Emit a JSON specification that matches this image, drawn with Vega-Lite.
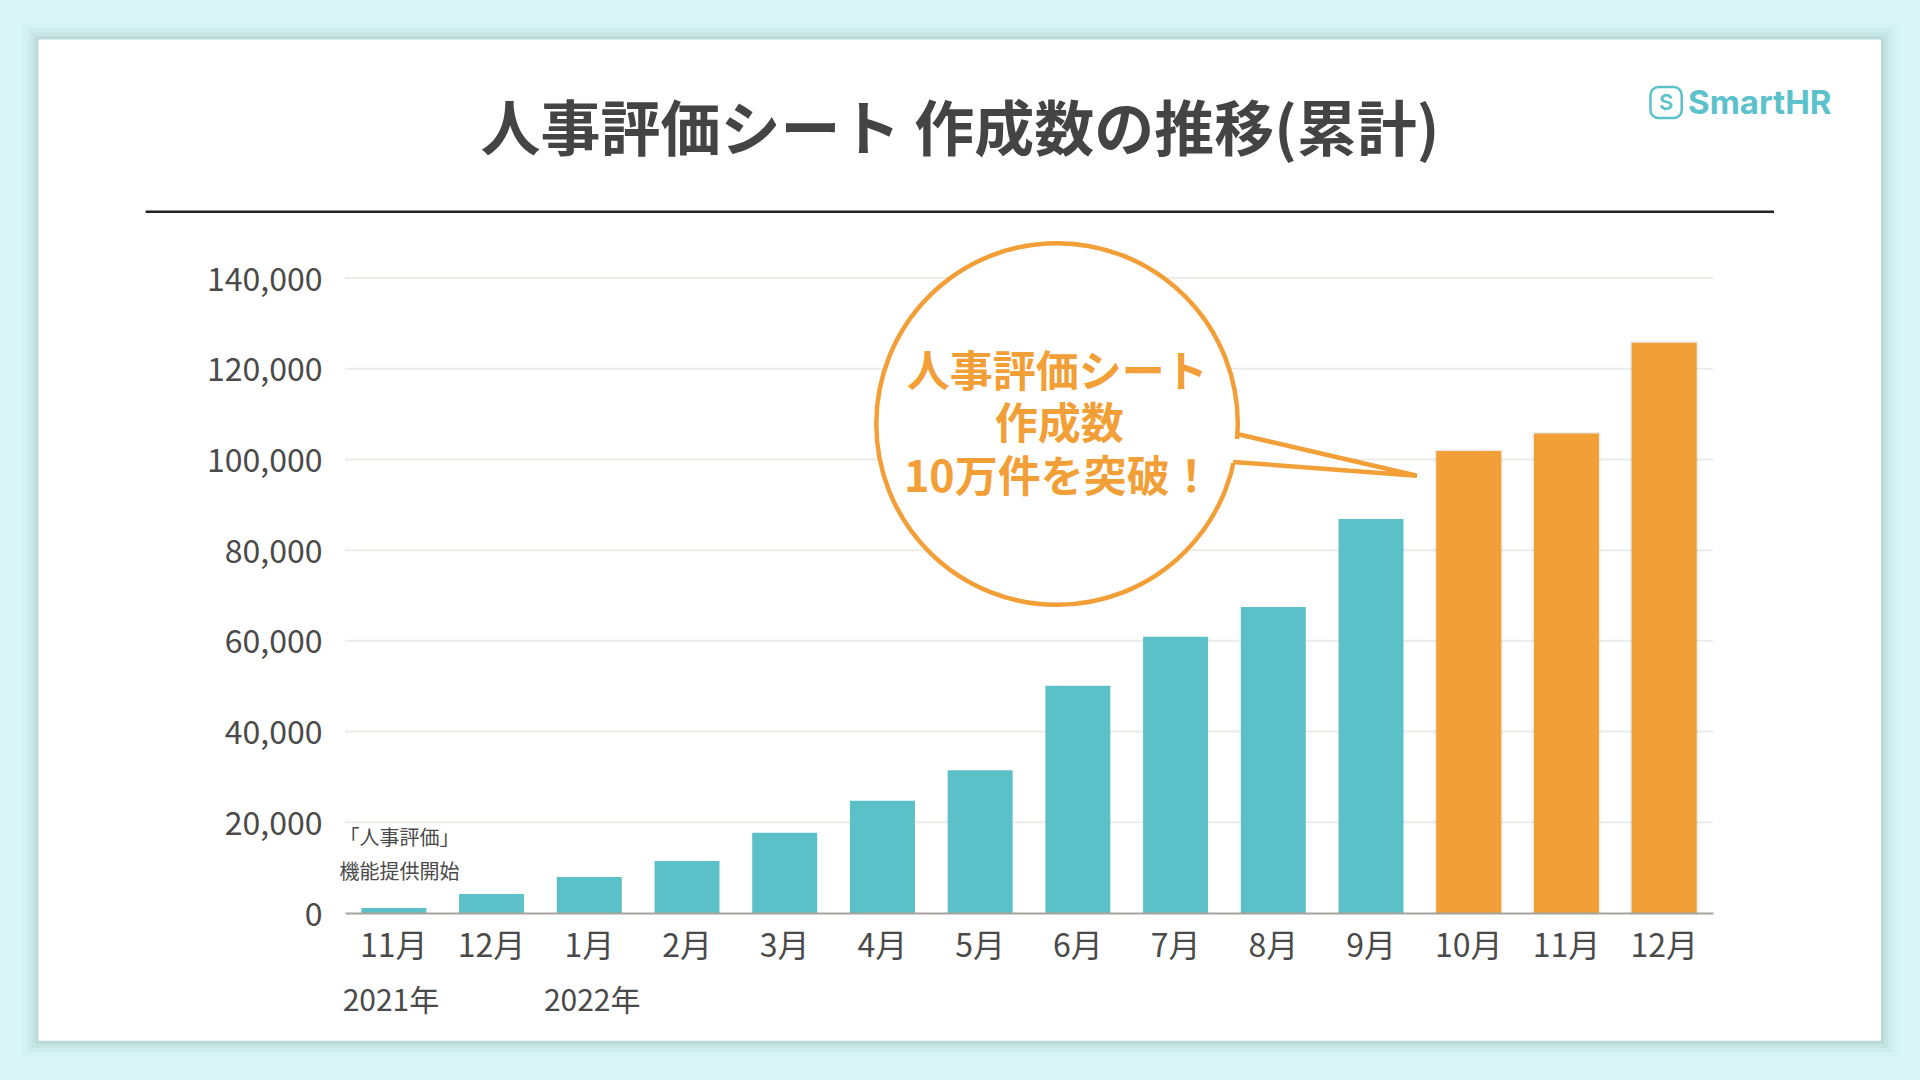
{
  "$schema": "https://vega.github.io/schema/vega-lite/v6.json",
  "width": 1368,
  "height": 635,
  "autosize": "none",
  "padding": {"left": 345, "top": 278, "right": 207, "bottom": 167},
  "background": "#d9f5f5",
  "title": {
    "text": "人事評価シート 作成数の推移(累計)",
    "anchor": "middle",
    "dx": -69,
    "offset": -169,
    "baseline": "middle",
    "fontSize": 60,
    "fontWeight": "bold",
    "color": "#444444"
  },
  "config": {
    "font": "Noto Sans CJK JP",
    "view": {"stroke": null}
  },
  "datasets": {
    "card": [{"slot": -3.137, "slotEnd": 15.72, "count": 192580, "countEnd": -28150}],
    "grid": [
      {"slot": 0, "slotEnd": 14, "count": 20000},
      {"slot": 0, "slotEnd": 14, "count": 40000},
      {"slot": 0, "slotEnd": 14, "count": 60000},
      {"slot": 0, "slotEnd": 14, "count": 80000},
      {"slot": 0, "slotEnd": 14, "count": 100000},
      {"slot": 0, "slotEnd": 14, "count": 120000},
      {"slot": 0, "slotEnd": 14, "count": 140000}
    ],
    "sheets": [
      {"month": "2021/11", "count": 1100, "phase": "10万件未満"},
      {"month": "2021/12", "count": 4190, "phase": "10万件未満"},
      {"month": "2022/1", "count": 7940, "phase": "10万件未満"},
      {"month": "2022/2", "count": 11460, "phase": "10万件未満"},
      {"month": "2022/3", "count": 17700, "phase": "10万件未満"},
      {"month": "2022/4", "count": 24730, "phase": "10万件未満"},
      {"month": "2022/5", "count": 31480, "phase": "10万件未満"},
      {"month": "2022/6", "count": 50100, "phase": "10万件未満"},
      {"month": "2022/7", "count": 60900, "phase": "10万件未満"},
      {"month": "2022/8", "count": 67460, "phase": "10万件未満"},
      {"month": "2022/9", "count": 86860, "phase": "10万件未満"},
      {"month": "2022/10", "count": 101860, "phase": "10万件以上"},
      {"month": "2022/11", "count": 105700, "phase": "10万件以上"},
      {"month": "2022/12", "count": 125700, "phase": "10万件以上"}
    ]
  },
  "resolve": {"scale": {"x": "independent"}},
  "encoding": {
    "x": {"field": "slot", "type": "quantitative", "scale": {"domain": [0, 14], "nice": false, "zero": false}, "axis": null},
    "y": {
      "field": "count",
      "type": "quantitative",
      "scale": {"domain": [0, 140000], "nice": false},
      "axis": {
        "title": null,
        "values": [0, 20000, 40000, 60000, 80000, 100000, 120000, 140000],
        "format": ",d",
        "grid": false,
        "domain": false,
        "ticks": false,
        "labelFontSize": 32,
        "labelColor": "#4a4a4a",
        "labelPadding": 23,
        "labelOffset": 2,
        "zindex": 1
      }
    }
  },
  "layer": [
    {
      "data": {"name": "card"},
      "mark": {"type": "rect", "fill": null, "stroke": "#3f6464", "strokeWidth": 32, "strokeOpacity": 0.02},
      "encoding": {"x2": {"field": "slotEnd"}, "y2": {"field": "countEnd"}}
    },
    {
      "data": {"name": "card"},
      "mark": {"type": "rect", "fill": null, "stroke": "#3f6464", "strokeWidth": 22, "strokeOpacity": 0.04},
      "encoding": {"x2": {"field": "slotEnd"}, "y2": {"field": "countEnd"}}
    },
    {
      "data": {"name": "card"},
      "mark": {"type": "rect", "fill": null, "stroke": "#3f6464", "strokeWidth": 14, "strokeOpacity": 0.06},
      "encoding": {"x2": {"field": "slotEnd"}, "y2": {"field": "countEnd"}}
    },
    {
      "data": {"name": "card"},
      "mark": {"type": "rect", "fill": null, "stroke": "#3f6464", "strokeWidth": 6, "strokeOpacity": 0.09},
      "encoding": {"x2": {"field": "slotEnd"}, "y2": {"field": "countEnd"}}
    },
    {
      "data": {"name": "card"},
      "mark": {"type": "rect", "fill": "#ffffff"},
      "encoding": {"x2": {"field": "slotEnd"}, "y2": {"field": "countEnd"}}
    },
    {
      "data": {"values": [{"slot": -2.04, "slotEnd": 14.625, "count": 154615}]},
      "mark": {"type": "rule", "stroke": "#222222", "strokeWidth": 2.5},
      "encoding": {"x2": {"field": "slotEnd"}}
    },
    {
      "data": {"name": "grid"},
      "mark": {"type": "rule", "stroke": "#ebebe8", "strokeWidth": 2},
      "encoding": {"x2": {"field": "slotEnd"}}
    },
    {
      "data": {"name": "sheets"},
      "mark": {"type": "bar", "fill": "transparent", "strokeWidth": 3, "strokeOpacity": 0.13},
      "encoding": {
        "x": {
          "field": "month",
          "type": "nominal",
          "sort": null,
          "scale": {"paddingInner": 0.335, "paddingOuter": 0.1675},
          "axis": null
        },
        "stroke": {
          "field": "phase",
          "type": "nominal",
          "scale": {"domain": ["10万件未満", "10万件以上"], "range": ["transparent", "#6b6b6b"]},
          "legend": null
        }
      }
    },
    {
      "data": {"name": "sheets"},
      "mark": {"type": "bar"},
      "encoding": {
        "x": {
          "field": "month",
          "type": "nominal",
          "sort": null,
          "scale": {"paddingInner": 0.335, "paddingOuter": 0.1675},
          "axis": {
            "title": null,
            "labelExpr": "split(datum.label, '/')[1] + '月'",
            "labelAngle": 0,
            "labelFontSize": 32,
            "labelColor": "#4a4a4a",
            "labelPadding": 18,
            "ticks": false,
            "grid": false,
            "domainColor": "#a5a39c",
            "domainWidth": 2,
            "zindex": 1
          }
        },
        "color": {
          "field": "phase",
          "type": "nominal",
          "scale": {"domain": ["10万件未満", "10万件以上"], "range": ["#5bc0c8", "#f29f38"]},
          "legend": null
        }
      }
    },
    {
      "data": {"values": [
        {"slot": 0.47, "count": -19710, "text": "2021年"},
        {"slot": 2.53, "count": -19710, "text": "2022年"}
      ]},
      "mark": {"type": "text", "fontSize": 30, "color": "#4a4a4a", "baseline": "middle"},
      "encoding": {"text": {"field": "text"}}
    },
    {
      "data": {"values": [
        {"slot": 0.558, "count": 16350, "text": "「人事評価」"},
        {"slot": 0.558, "count": 8920, "text": "機能提供開始"}
      ]},
      "mark": {"type": "text", "fontSize": 20, "color": "#4a4a4a", "baseline": "middle"},
      "encoding": {"text": {"field": "text"}}
    },
    {
      "data": {"values": [{"slot": 7.287, "count": 107810}]},
      "mark": {"type": "point", "shape": "circle", "size": 130700, "filled": true, "fill": "#ffffff", "stroke": "#f29f38", "strokeWidth": 4.5, "opacity": 1}
    },
    {
      "data": {"values": [
        {"slot": 9.06, "count": 104500, "countEnd": 99200},
        {"slot": 9.14, "count": 104500, "countEnd": 99200},
        {"slot": 10.97, "count": 96400, "countEnd": 96400}
      ]},
      "mark": {"type": "area", "fill": "#ffffff", "opacity": 1},
      "encoding": {"y2": {"field": "countEnd"}}
    },
    {
      "data": {"values": [
        {"step": 1, "slot": 9.13, "count": 105600},
        {"step": 2, "slot": 10.97, "count": 96400},
        {"step": 3, "slot": 9.09, "count": 99450}
      ]},
      "mark": {"type": "line", "stroke": "#f29f38", "strokeWidth": 4.5, "strokeJoin": "miter"},
      "encoding": {"order": {"field": "step", "type": "ordinal"}}
    },
    {
      "data": {"values": [
        {"slot": 7.29, "count": 118780, "text": "人事評価シート"},
        {"slot": 7.31, "count": 107260, "text": "作成数"},
        {"slot": 7.3, "count": 95650, "text": "10万件を突破\uFF01"}
      ]},
      "mark": {"type": "text", "fontSize": 43, "fontWeight": "bold", "color": "#f29f38", "baseline": "middle"},
      "encoding": {"text": {"field": "text"}}
    },
    {
      "data": {"values": [{"slot": 13.36, "slotEnd": 13.68, "count": 182100, "countEnd": 175300}]},
      "mark": {"type": "rect", "fill": null, "stroke": "#5bc2cb", "strokeWidth": 2.5, "cornerRadius": 8},
      "encoding": {"x2": {"field": "slotEnd"}, "y2": {"field": "countEnd"}}
    },
    {
      "data": {"values": [{"slot": 13.52, "count": 178600, "text": "S"}]},
      "mark": {"type": "text", "fontSize": 22, "font": "Inter", "fontWeight": 600, "color": "#5bc2cb", "baseline": "middle"},
      "encoding": {"text": {"field": "text"}}
    },
    {
      "data": {"values": [{"slot": 13.745, "count": 178300, "text": "SmartHR"}]},
      "mark": {"type": "text", "fontSize": 33, "font": "Inter", "fontWeight": "bold", "color": "#5bc2cb", "align": "left", "baseline": "middle"},
      "encoding": {"text": {"field": "text"}}
    }
  ]
}
